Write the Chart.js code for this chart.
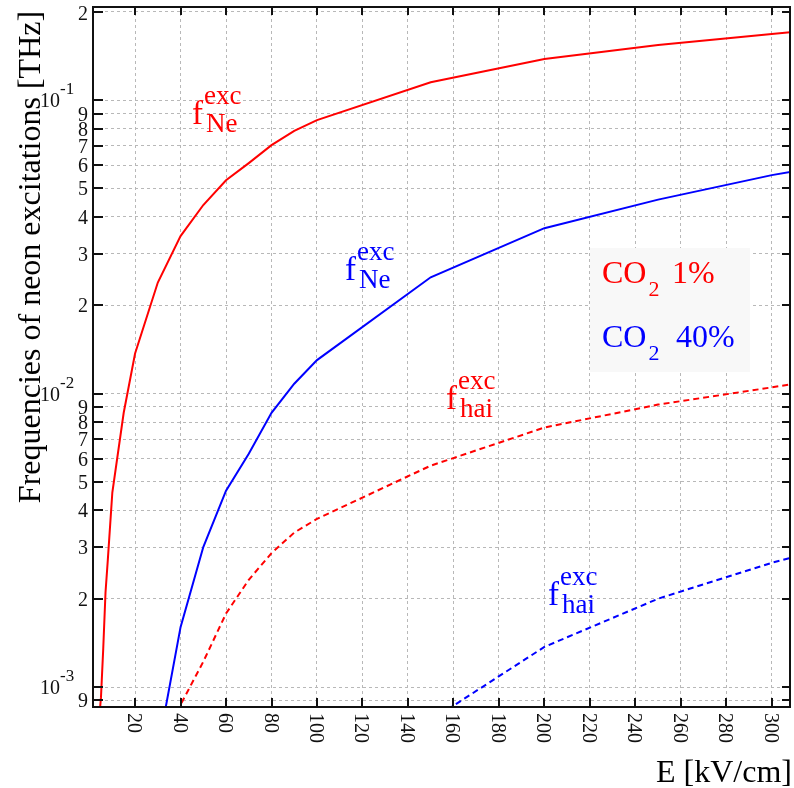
<!DOCTYPE html>
<html>
<head>
<meta charset="utf-8">
<script src="https://cdn.jsdelivr.net/npm/chart.js@4/dist/chart.umd.min.js"></script>
<style>
  html, body { margin: 0; padding: 0; background: #ffffff; }
  #wrap { width: 794px; height: 788px; }
</style>
</head>
<body>
<div id="wrap"><canvas id="c" width="794" height="788"></canvas></div>
<script>
// ---------- data ----------
const xTickValues = [20, 40, 60, 80, 100, 120, 140, 160, 180, 200, 220, 240, 260, 280, 300];
const yTickValues = [0.2, 0.1, 0.09, 0.08, 0.07, 0.06, 0.05, 0.04, 0.03, 0.02,
                     0.01, 0.009, 0.008, 0.007, 0.006, 0.005, 0.004, 0.003, 0.002,
                     0.001, 0.0009];
const yTickLabels = ["2", "10|-1", "9", "8", "7", "6", "5", "4", "3", "2",
                     "10|-2", "9", "8", "7", "6", "5", "4", "3", "2",
                     "10|-3", "9"];

// CO2 1% : neon excitations (solid red)
const E_ne_co2_1   = [4, 5, 6, 7, 8, 10, 15, 20, 30, 40, 50, 60, 70, 80, 90, 100, 150, 200, 250, 300, 310];
const fNe_co2_1    = [0.00075, 0.00092, 0.00135, 0.0021, 0.0027, 0.0046, 0.0086, 0.0137, 0.0239, 0.0344,
                      0.0439, 0.0533, 0.061, 0.0702, 0.0785, 0.0855, 0.115, 0.138, 0.154, 0.168, 0.171];
// CO2 40% : neon excitations (solid blue)
const E_ne_co2_40  = [32, 40, 50, 60, 70, 80, 90, 100, 150, 200, 250, 300, 310];
const fNe_co2_40   = [0.00074, 0.0016, 0.003, 0.00467, 0.00624, 0.0086, 0.0108, 0.013, 0.0249, 0.0366,
                      0.0458, 0.0555, 0.0572];
// CO2 1% : hai excitations (dashed red)
const E_hai_co2_1  = [38, 40, 50, 60, 70, 80, 90, 100, 150, 200, 250, 300, 310];
const fHai_co2_1   = [0.0007, 0.00087, 0.00122, 0.00178, 0.00232, 0.00286, 0.00336, 0.00374, 0.00568,
                      0.00766, 0.00917, 0.0105, 0.0108];
// CO2 40% : hai excitations (dashed blue)
const E_hai_co2_40 = [150, 200, 250, 300, 310];
const fHai_co2_40  = [0.00077, 0.00137, 0.002, 0.00265, 0.00278];

const xTitle = "E [kV/cm]";
const yTitle = "Frequencies of neon excitations [THz]";
const legendLines = [["CO", "2", "1%", "#ff0000"], ["CO", "2", "40%", "#0000ff"]];

// ---------- helpers ----------
function pts(xs, ys) { return xs.map((v, i) => ({ x: v, y: ys[i] })); }
const SERIF = '"Liberation Serif", "Times New Roman", serif';

const overlay = {
  id: 'overlay',
  afterDatasetsDraw(chart) {
    const { ctx, chartArea: a, scales } = chart;
    const xs = scales.x, ys = scales.y;
    ctx.save();

    // legend box
    ctx.fillStyle = '#f8f8f8';
    ctx.fillRect(590, 248, 160, 124);
    legendLines.forEach((l, i) => {
      const base = 283 + i * 64;
      ctx.fillStyle = l[3];
      ctx.textAlign = 'left';
      ctx.textBaseline = 'alphabetic';
      ctx.font = '32px ' + SERIF;
      ctx.fillText(l[0], 602, base);
      const w = ctx.measureText(l[0]).width;
      ctx.font = '22px ' + SERIF;
      ctx.fillText(l[1], 602 + w + 2, base + 13);
      ctx.font = '32px ' + SERIF;
      ctx.fillText(l[2], i === 0 ? 672 : 676, base);
    });

    // curve labels f^exc_sub
    function fLabel(x, y, sub, color) {
      ctx.fillStyle = color;
      ctx.textAlign = 'left';
      ctx.textBaseline = 'alphabetic';
      ctx.font = 'italic 0px ' + SERIF;
      ctx.font = '33px ' + SERIF;
      ctx.fillText('f', x, y);
      ctx.font = '27px ' + SERIF;
      ctx.fillText('exc', x + 12, y - 20);
      ctx.fillText(sub, x + 14, y + 8);
    }
    fLabel(192, 124, 'Ne', '#ff0000');
    fLabel(345, 280, 'Ne', '#0000ff');
    fLabel(446, 409, 'hai', '#ff0000');
    fLabel(548, 605, 'hai', '#0000ff');

    // frame
    ctx.strokeStyle = '#111';
    ctx.lineWidth = 2;
    ctx.strokeRect(a.left, a.top, a.right - a.left, a.bottom - a.top);

    // tick marks
    ctx.beginPath();
    xTickValues.forEach(v => {
      const px = Math.round(xs.getPixelForValue(v));
      ctx.moveTo(px, a.bottom); ctx.lineTo(px, a.bottom - 9);
      ctx.moveTo(px, a.top); ctx.lineTo(px, a.top + 8);
    });
    yTickValues.forEach(v => {
      const py = Math.round(ys.getPixelForValue(v));
      ctx.moveTo(a.left, py); ctx.lineTo(a.left + 10, py);
      ctx.moveTo(a.right, py); ctx.lineTo(a.right - 8, py);
    });
    ctx.stroke();

    // y tick labels
    ctx.fillStyle = '#111';
    yTickValues.forEach((v, i) => {
      const py = ys.getPixelForValue(v);
      const lab = yTickLabels[i];
      if (lab.indexOf('|') >= 0) {
        const [m, e] = lab.split('|');
        ctx.textAlign = 'right';
        ctx.font = '20px ' + SERIF;
        ctx.fillText(m, 60, py + 7);
        ctx.textAlign = 'left';
        ctx.font = '17px ' + SERIF;
        ctx.fillText(e, 60, py - 6);
      } else {
        ctx.textAlign = 'right';
        ctx.font = '20px ' + SERIF;
        ctx.fillText(lab, 88, Math.max(py + 7, 20));
      }
    });

    // x tick labels (rotated clockwise)
    ctx.font = '20px ' + SERIF;
    xTickValues.forEach(v => {
      const px = xs.getPixelForValue(v);
      ctx.save();
      ctx.translate(px - 7, 713);
      ctx.rotate(Math.PI / 2);
      ctx.textAlign = 'left';
      ctx.textBaseline = 'alphabetic';
      ctx.fillText(String(v), 0, 0);
      ctx.restore();
    });

    // axis titles
    ctx.fillStyle = '#000';
    ctx.font = '32px ' + SERIF;
    ctx.textAlign = 'right';
    ctx.textBaseline = 'alphabetic';
    ctx.fillText(xTitle, 792, 782);

    ctx.save();
    ctx.translate(40, 257);
    ctx.rotate(-Math.PI / 2);
    ctx.textAlign = 'center';
    ctx.fillText(yTitle, 0, 0);
    ctx.restore();

    ctx.restore();
  }
};

const red = '#ff0000', blue = '#0000ff';

new Chart(document.getElementById('c'), {
  type: 'line',
  data: {
    datasets: [
      { data: pts(E_ne_co2_1, fNe_co2_1), borderColor: red, borderWidth: 2, pointRadius: 0, fill: false, tension: 0 },
      { data: pts(E_ne_co2_40, fNe_co2_40), borderColor: blue, borderWidth: 2, pointRadius: 0, fill: false, tension: 0 },
      { data: pts(E_hai_co2_1, fHai_co2_1), borderColor: red, borderWidth: 2, borderDash: [6, 4], pointRadius: 0, fill: false, tension: 0 },
      { data: pts(E_hai_co2_40, fHai_co2_40), borderColor: blue, borderWidth: 2, borderDash: [6, 4], pointRadius: 0, fill: false, tension: 0 }
    ]
  },
  options: {
    responsive: false,
    animation: false,
    devicePixelRatio: 1,
    layout: { padding: { left: 93, right: 4, top: 7, bottom: 81 } },
    plugins: { legend: { display: false }, tooltip: { enabled: false }, title: { display: false } },
    scales: {
      x: {
        type: 'linear',
        min: 1.5,
        max: 308,
        afterBuildTicks: (axis) => { axis.ticks = xTickValues.map(v => ({ value: v })); },
        ticks: { display: false, autoSkip: false },
        grid: { color: '#b8b8b8', lineWidth: 1, drawTicks: false },
        border: { display: false, dash: [3, 3] }
      },
      y: {
        type: 'logarithmic',
        min: 0.000855,
        max: 0.2076,
        afterBuildTicks: (axis) => { axis.ticks = yTickValues.map(v => ({ value: v })); },
        ticks: { display: false, autoSkip: false },
        grid: { color: '#b8b8b8', lineWidth: 1, drawTicks: false },
        border: { display: false, dash: [3, 3] }
      }
    }
  },
  plugins: [overlay]
});
</script>
</body>
</html>
